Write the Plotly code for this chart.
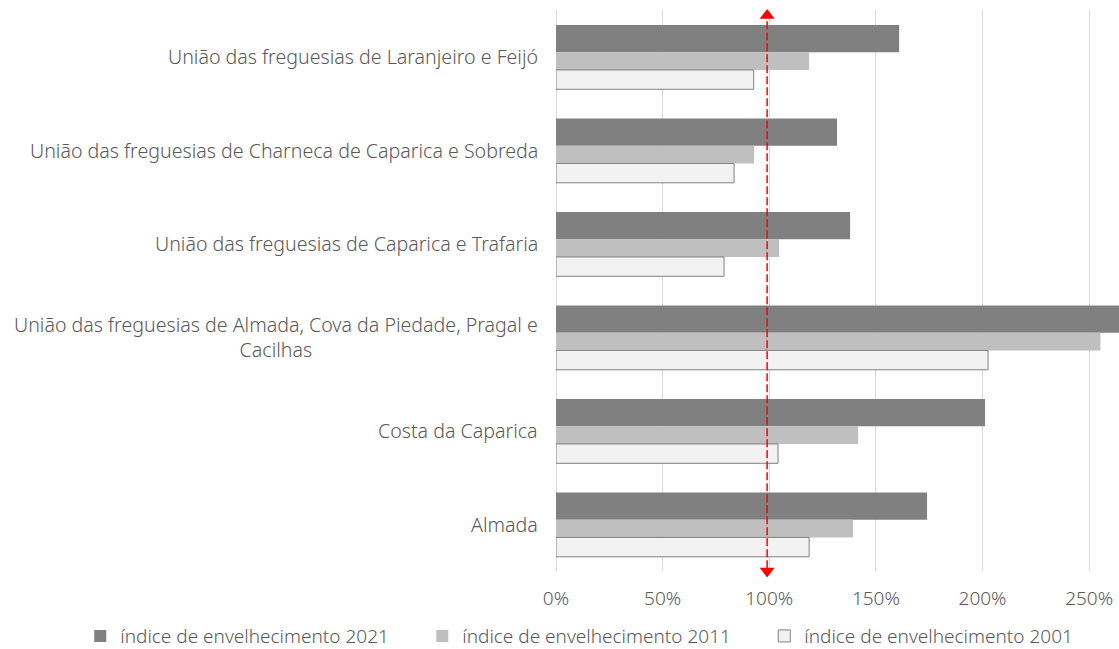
import plotly.graph_objects as go

# categories from bottom to top
categories = [
    "Almada",
    "Costa da Caparica",
    "União das freguesias de Almada, Cova da Piedade, Pragal e<br>Cacilhas",
    "União das freguesias de Caparica e Trafaria",
    "União das freguesias de Charneca de Caparica e Sobreda",
    "União das freguesias de Laranjeiro e Feijó",
]
indice_2021 = [174.0, 201.2, 275.0, 137.9, 131.8, 160.9]
indice_2011 = [139.3, 141.7, 255.3, 104.6, 92.9, 118.7]
indice_2001 = [118.7, 104.1, 202.6, 78.8, 83.5, 92.7]
series_names = [
    "índice de envelhecimento 2021",
    "índice de envelhecimento 2011",
    "índice de envelhecimento 2001",
]
x_ticks = [0, 50, 100, 150, 200, 250]
x_tick_labels = ["0%", "50%", "100%", "150%", "200%", "250%"]
reference_line = 99

grey_text = "#595959"
font_family = "Noto Sans"
font_weight = 300

positions = list(range(len(categories)))

fig = go.Figure()

# 2021 bar is thicker than the other two in the original
fig.add_trace(go.Bar(
    y=positions, x=indice_2021, name=series_names[0], orientation="h",
    offset=0.048, width=0.292,
    marker=dict(color="#808080", line=dict(width=0)),
))
fig.add_trace(go.Bar(
    y=positions, x=indice_2011, name=series_names[1], orientation="h",
    offset=-0.141, width=0.189,
    marker=dict(color="#BFBFBF", line=dict(width=0)),
))
fig.add_trace(go.Bar(
    y=positions, x=indice_2001, name=series_names[2], orientation="h",
    offset=-0.348, width=0.207,
    marker=dict(color="#F2F2F2", line=dict(width=1, color="#808080")),
))

fig.add_shape(
    type="line", xref="x", yref="paper",
    x0=reference_line, x1=reference_line, y0=0.005, y1=0.985,
    line=dict(color="#FF0000", width=1.5, dash="8px,3px"),
)

# arrow heads of the 100% reference line
fig.add_trace(go.Scatter(
    x=[reference_line, reference_line], y=[5.441, -0.499],
    mode="markers", showlegend=False, hoverinfo="skip", cliponaxis=False,
    marker=dict(symbol=["triangle-up", "triangle-down"], size=13, color="#FF0000",
                line=dict(width=0)),
))

# category labels, centred lines like the original
for pos, cat in zip(positions, categories):
    fig.add_annotation(
        text=cat, xref="paper", x=0, xshift=-16, xanchor="right",
        yref="y", y=pos, yanchor="middle", align="center", showarrow=False,
        font=dict(size=19.6, color=grey_text, family=font_family, weight=font_weight),
    )

fig.update_layout(
    width=1119, height=649,
    margin=dict(l=556, r=0, t=10, b=78, autoexpand=False),
    barmode="overlay",
    plot_bgcolor="white", paper_bgcolor="white",
    font=dict(family=font_family, size=19, color=grey_text, weight=font_weight),
    xaxis=dict(
        range=[0, 264], tickvals=x_ticks, ticktext=x_tick_labels,
        showgrid=True, gridcolor="#D9D9D9", gridwidth=1.3,
        zeroline=True, zerolinecolor="#D9D9D9", zerolinewidth=1.3,
        ticklabelstandoff=14, showline=False,
        tickfont=dict(size=19, color=grey_text, family=font_family, weight=font_weight),
    ),
    yaxis=dict(
        range=[-0.5, 5.5], showticklabels=False, showgrid=False,
        zeroline=False, showline=False,
    ),
    showlegend=True,
    legend=dict(
        orientation="h", x=-0.845, xanchor="left", y=-0.116, yanchor="middle",
        entrywidth=297, bgcolor="rgba(0,0,0,0)",
        font=dict(size=19, color=grey_text, family=font_family, weight=font_weight),
        traceorder="normal",
    ),
)

# the page body has a default margin, drop it so the figure fills the window
fig.write_html(
    "out.html",
    config={"displayModeBar": False},
    post_script="document.body.style.margin='0';",
)
